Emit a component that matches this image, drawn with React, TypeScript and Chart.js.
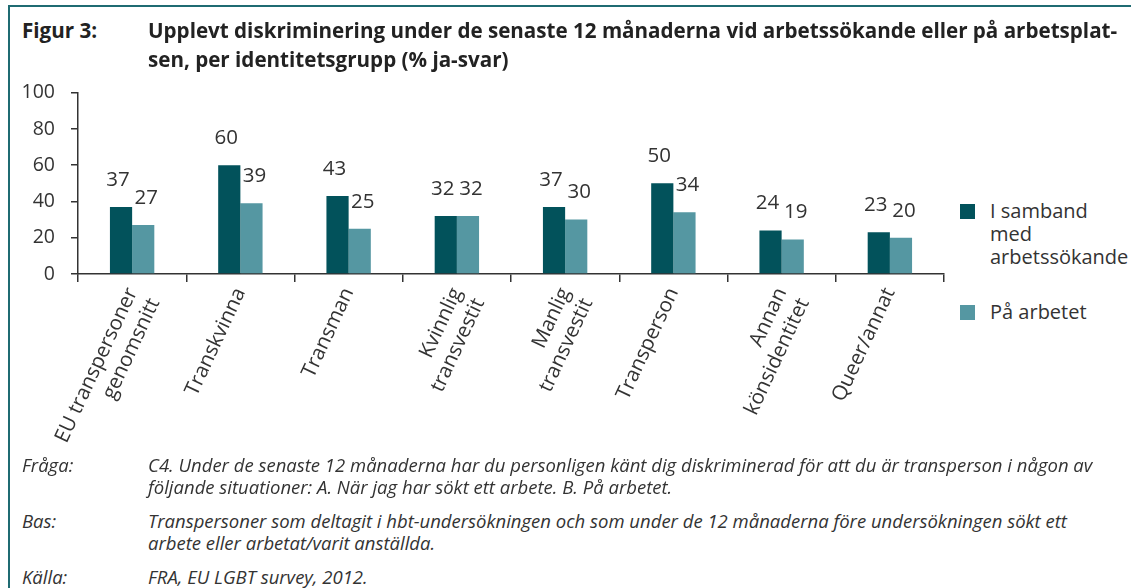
import React, { useEffect, useRef } from "react";
import { Chart, registerables } from "chart.js";

Chart.register(...registerables);

const categories: (string | string[])[] = [
  ["EU transpersoner", "genomsnitt"],
  "Transkvinna",
  "Transman",
  ["Kvinnlig", "transvestit"],
  ["Manlig", "transvestit"],
  "Transperson",
  ["Annan", "könsidentitet"],
  "Queer/annat",
];
const seriesJobSeeking = [37, 60, 43, 32, 37, 50, 24, 23];
const seriesAtWork = [27, 39, 25, 32, 30, 34, 19, 20];
const seriesNames = ["I samband med arbetssökande", "På arbetet"];
const legendLines = [["I samband", "med", "arbetssökande"], ["På arbetet"]];
const yTicks = [0, 20, 40, 60, 80, 100];

const DARK = "#02525b";
const LIGHT = "#5597a2";
const FRAME = "#1f6b72";
const TEXT = "#333333";
const FONT = "'Open Sans', 'Noto Sans', sans-serif";

const valueLabels = {
  id: "valueLabels",
  afterDatasetsDraw(chart: any) {
    const ctx = chart.ctx;
    ctx.save();
    ctx.font = `20.5px ${FONT}`;
    ctx.fillStyle = TEXT;
    ctx.textAlign = "center";
    ctx.textBaseline = "middle";
    chart.data.datasets.forEach((ds: any, di: number) => {
      const meta = chart.getDatasetMeta(di);
      const dx = di === 0 ? -3 : 3;
      meta.data.forEach((bar: any, i: number) => {
        ctx.fillText(String(ds.data[i]), bar.x + dx, bar.y - 27);
      });
    });
    ctx.restore();
  },
};

export default function App() {
  const ref = useRef<HTMLCanvasElement>(null);
  useEffect(() => {
    if (!ref.current) return;
    const chart = new Chart(ref.current, {
      type: "bar",
      data: {
        labels: categories,
        datasets: [
          { label: seriesNames[0], data: seriesJobSeeking, backgroundColor: DARK, barPercentage: 1, categoryPercentage: 0.41 },
          { label: seriesNames[1], data: seriesAtWork, backgroundColor: LIGHT, barPercentage: 1, categoryPercentage: 0.41 },
        ],
      },
      options: {
        responsive: false,
        animation: false,
        devicePixelRatio: 1,
        layout: { padding: { top: 11, right: 16, left: 0, bottom: 0 } },
        plugins: { legend: { display: false }, tooltip: { enabled: false } },
        scales: {
          x: {
            grid: { display: true, drawOnChartArea: false, drawTicks: true, tickLength: 8, color: TEXT, lineWidth: 1.5, offset: true },
            border: { display: true, color: TEXT, width: 1.5 },
            ticks: {
              color: TEXT,
              font: { family: FONT, size: 20.5 },
              minRotation: 65,
              maxRotation: 65,
              autoSkip: false,
              padding: 2,
            },
            afterFit: (s: any) => { s.height = 186; },
          },
          y: {
            min: 0,
            max: 100,
            afterBuildTicks: (s: any) => { s.ticks = yTicks.map((v) => ({ value: v })); },
            grid: { display: true, drawOnChartArea: false, drawTicks: true, tickLength: 7, color: TEXT, lineWidth: 1.5 },
            border: { display: true, color: TEXT, width: 1.5 },
            ticks: { color: TEXT, font: { family: FONT, size: 19.5 }, padding: 16 },
            afterFit: (s: any) => { s.width = 78; },
          },
        },
      },
      plugins: [valueLabels],
    });
    return () => chart.destroy();
  }, []);

  const labelCol: React.CSSProperties = { position: "absolute", left: 22 };
  const textCol: React.CSSProperties = { position: "absolute", left: 148, right: 10 };
  const foot: React.CSSProperties = { fontFamily: FONT, fontStyle: "italic", fontSize: 18.5, lineHeight: "22px", color: TEXT };

  return (
    <div style={{ position: "absolute", left: 0, top: 0, width: 1131, height: 588, background: "#fff", overflow: "hidden" }}>
      <div style={{ position: "absolute", left: 8, top: 5, width: 1123, height: 590, borderTop: `2px solid ${FRAME}`, borderLeft: `2px solid ${FRAME}` }} />
      <canvas ref={ref} width={960} height={395} style={{ position: "absolute", left: 0, top: 65, width: 960, height: 395 }} />
      <div style={{ fontFamily: FONT, fontWeight: 700, fontSize: 20.6, lineHeight: "29px", color: "#222" }}>
        <div style={{ ...labelCol, top: 16 }}>Figur 3:</div>
        <div style={{ ...textCol, top: 16, whiteSpace: "nowrap" }}>
          Upplevt diskriminering under de senaste 12 månaderna vid arbetssökande eller på arbetsplat-
          <br />
          sen, per identitetsgrupp (% ja-svar)
        </div>
      </div>
      {legendLines.map((lines, i) => (
        <div key={i} style={{ position: "absolute", left: 960, top: i === 0 ? 199 : 300 }}>
          <div style={{ position: "absolute", left: 0, top: 5, width: 15, height: 15, background: i === 0 ? DARK : LIGHT }} />
          <div style={{ position: "absolute", left: 30, top: 0, fontFamily: FONT, fontSize: 20, lineHeight: "23px", color: TEXT, whiteSpace: "nowrap" }}>
            {lines.map((l, j) => (<div key={j}>{l}</div>))}
          </div>
        </div>
      ))}
      <div style={foot}>
        <div style={{ ...labelCol, top: 454 }}>Fråga:</div>
        <div style={{ ...textCol, top: 454, whiteSpace: "nowrap" }}>
          C4. Under de senaste 12 månaderna har du personligen känt dig diskriminerad för att du är transperson i någon av
          <br />
          följande situationer: A. När jag har sökt ett arbete. B. På arbetet.
        </div>
        <div style={{ ...labelCol, top: 510 }}>Bas:</div>
        <div style={{ ...textCol, top: 510, whiteSpace: "nowrap" }}>
          Transpersoner som deltagit i hbt-undersökningen och som under de 12 månaderna före undersökningen sökt ett
          <br />
          arbete eller arbetat/varit anställda.
        </div>
        <div style={{ ...labelCol, top: 566 }}>Källa:</div>
        <div style={{ ...textCol, top: 566 }}>FRA, EU LGBT survey, 2012.</div>
      </div>
    </div>
  );
}
